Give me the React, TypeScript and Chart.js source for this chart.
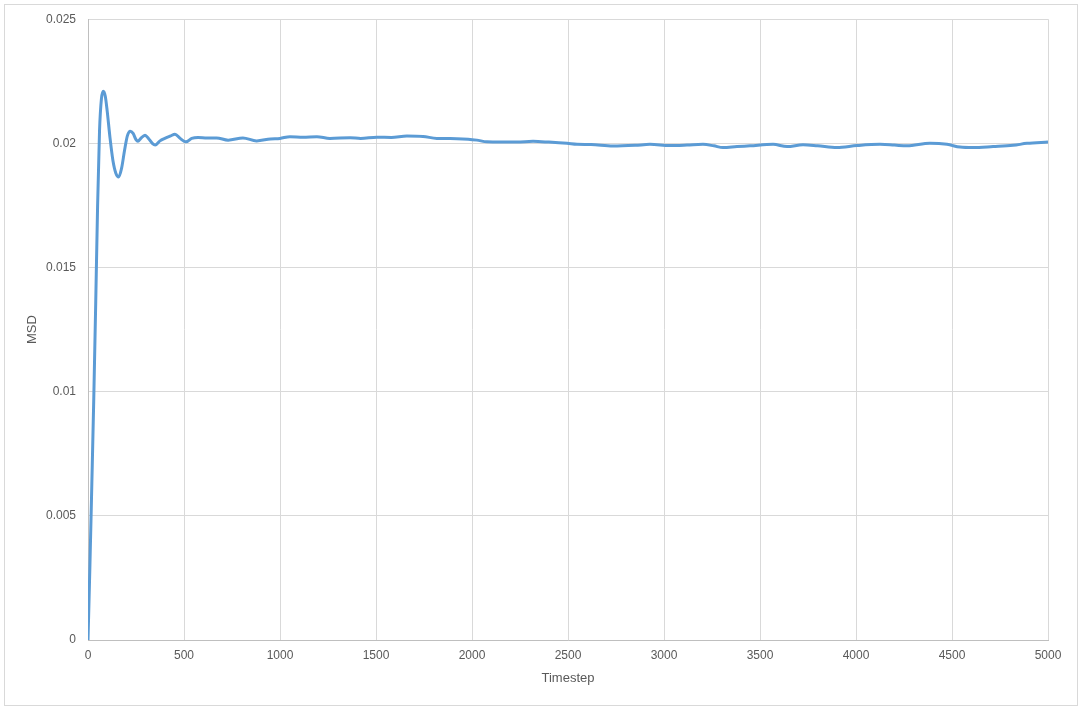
import React, { useEffect, useRef } from "react";
import { Chart, registerables } from "chart.js";

Chart.register(...registerables);

const timesteps: number[] = [
  0, 10, 20, 30, 40, 50, 60, 70, 80, 90, 100, 115, 130, 145, 160, 175, 190, 205, 220, 235,
  250, 260, 275, 297, 315, 335, 350, 375, 400, 430, 453, 480, 510, 540, 573, 620, 670, 730,
  807, 878, 950, 1000, 1052, 1120, 1192, 1260, 1365, 1420, 1505, 1580, 1661, 1745, 1817,
  1921, 1980, 2025, 2078, 2150, 2234, 2318, 2400, 2495, 2547, 2620, 2734, 2850, 2927, 3031,
  3120, 3203, 3260, 3307, 3380, 3448, 3568, 3641, 3724, 3800, 3901, 4005, 4125, 4200, 4266,
  4385, 4474, 4542, 4609, 4714, 4818, 4891, 5000,
];

const msd: number[] = [
  0, 0.003, 0.0063, 0.0097, 0.0135, 0.0175, 0.0205, 0.0218, 0.0221, 0.0219, 0.0213, 0.0202,
  0.0193, 0.0188, 0.01865, 0.019, 0.0197, 0.0203, 0.02049, 0.0204, 0.02015, 0.02008, 0.0202,
  0.02033, 0.0202, 0.02, 0.01993, 0.0201, 0.0202, 0.0203, 0.02037, 0.0202, 0.02006, 0.0202,
  0.02024, 0.02022, 0.02022, 0.02013, 0.02022, 0.0201, 0.02018, 0.0202, 0.02027, 0.02025,
  0.02027, 0.0202, 0.02023, 0.0202, 0.02025, 0.02024, 0.0203, 0.02028, 0.0202, 0.02019,
  0.02017, 0.02013, 0.02006, 0.02005, 0.02005, 0.02008, 0.02005, 0.02, 0.01996, 0.01995,
  0.01989, 0.01992, 0.01996, 0.01991, 0.01993, 0.01996, 0.0199, 0.01983, 0.01987, 0.0199,
  0.01996, 0.01987, 0.01994, 0.0199, 0.01983, 0.01991, 0.01996, 0.01993, 0.0199, 0.02,
  0.01996, 0.01985, 0.01983, 0.01987, 0.01992, 0.02, 0.02005,
];

const xTicks = { min: 0, max: 5000, step: 500 };
const yTicks = { min: 0, max: 0.025, step: 0.005 };
const xTitle = "Timestep";
const yTitle = "MSD";

export default function App() {
  const ref = useRef<HTMLCanvasElement | null>(null);

  useEffect(() => {
    if (!ref.current) return;
    const font = { family: "'Liberation Sans', Arial, sans-serif", size: 12 };
    const chart = new Chart(ref.current, {
      type: "line",
      data: {
        datasets: [
          {
            label: yTitle,
            data: timesteps.map((t, i) => ({ x: t, y: msd[i] })),
            borderColor: "#5B9BD5",
            backgroundColor: "#5B9BD5",
            borderWidth: 3,
            pointRadius: 0,
            cubicInterpolationMode: "monotone",
            fill: false,
          },
        ],
      },
      options: {
        animation: false,
        responsive: false,
        maintainAspectRatio: false,
        layout: { padding: { left: 21, top: 19, right: 34, bottom: 20 } },
        plugins: { legend: { display: false }, tooltip: { enabled: false } },
        scales: {
          x: {
            type: "linear",
            min: xTicks.min,
            max: xTicks.max,
            afterFit: (s: any) => {
              s.height = 50;
            },
            ticks: {
              stepSize: xTicks.step,
              color: "#595959",
              font,
              padding: 8,
              maxRotation: 0,
              callback: (v: any) => String(Math.round(Number(v))),
            },
            grid: { color: "#D9D9D9", drawTicks: false },
            border: { color: "#BFBFBF" },
            title: {
              display: true,
              text: xTitle,
              color: "#595959",
              font: { ...font, size: 13 },
            },
          },
          y: {
            type: "linear",
            min: yTicks.min,
            max: yTicks.max,
            afterFit: (s: any) => {
              s.width = 67;
            },
            ticks: {
              stepSize: yTicks.step,
              color: "#595959",
              font,
              padding: 12,
              callback: (v: any) => String(+Number(v).toFixed(3)),
            },
            grid: { color: "#D9D9D9", drawTicks: false },
            border: { color: "#BFBFBF" },
            title: {
              display: true,
              text: yTitle,
              color: "#595959",
              font: { ...font, size: 13 },
            },
          },
        },
      },
    } as any);
    return () => chart.destroy();
  }, []);

  return (
    <div style={{ position: "fixed", left: 0, top: 0, width: 1082, height: 710, background: "#fff" }}>
      <div
        style={{
          position: "absolute",
          left: 4,
          top: 4,
          width: 1074,
          height: 702,
          border: "1px solid #D9D9D9",
          boxSizing: "border-box",
        }}
      />
      <canvas ref={ref} width={1082} height={710} style={{ position: "absolute", left: 0, top: 0 }} />
    </div>
  );
}
